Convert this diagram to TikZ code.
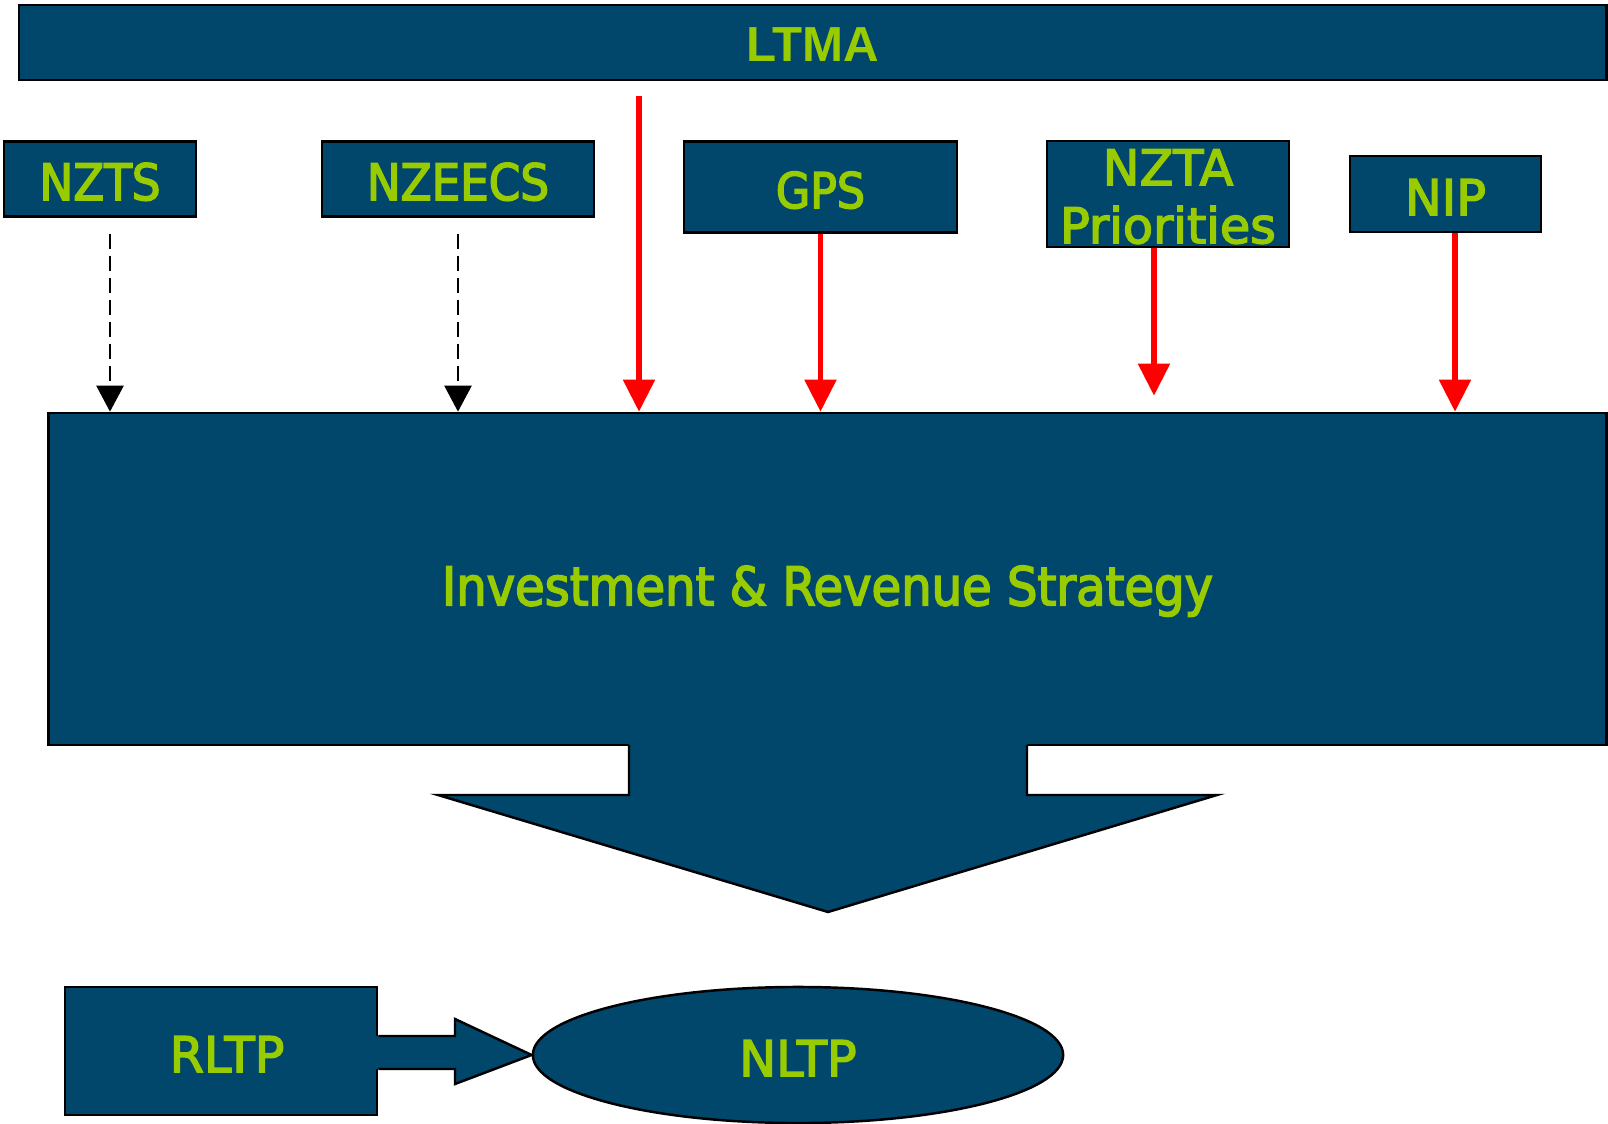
\documentclass[tikz,border=0pt]{standalone}
\usepackage{fontspec}
\setmainfont[FakeBold=3]{DejaVu Sans}
\newfontfamily\narrowfont[FakeBold=3]{DejaVu Sans Condensed}
\newfontfamily\actfont{Liberation Sans}
\usepackage{tikz}
\usetikzlibrary{arrows.meta, positioning, shapes.geometric}
\usepackage{xcolor}
\definecolor{navy}{HTML}{01466B}
\definecolor{lime}{HTML}{99CC00}

\begin{document}
\begin{tikzpicture}[
  x=0.01cm, y=-0.01cm,
  box/.style={draw=black, fill=navy, text=lime, line width=0.7pt, inner sep=0pt,
    align=center, font=\fontsize{14}{16.5}\selectfont},
  oneline/.style={text height=12pt, text depth=0pt},
  redmsg/.style={-{Triangle[length=3.2mm, width=3.1mm]}, draw=red, line width=1.5pt},
  dashmsg/.style={-{Triangle[length=2.6mm, width=2.7mm]}, line width=0.7pt,
    dash pattern=on 1.5mm off 0.7mm}
]
\useasboundingbox (0,0) rectangle (1608,1124);

\node[box, minimum width=15.865cm, minimum height=0.75cm, text height=10.6pt, text depth=0pt,
  font=\actfont\bfseries\fontsize{14}{16}\selectfont] (ltma) at (812.75,42.5) {LTMA};
\node[box, oneline, minimum width=1.92cm, minimum height=0.745cm, font=\narrowfont\fontsize{14.3}{16}\selectfont] (nzts) at (100,179) {NZTS};
\node[box, oneline, minimum width=2.72cm, minimum height=0.745cm, font=\narrowfont\fontsize{14.3}{16}\selectfont] (nzeecs) at (458,179) {NZEECS};
\node[box, oneline, minimum width=2.73cm, minimum height=0.905cm, font=\narrowfont\fontsize{14}{16}\selectfont] (gps) at (820.5,187) {GPS};
\node[box, minimum width=2.42cm, minimum height=1.055cm, text height=29pt, text depth=1pt] (nzta) at (1168,194) {NZTA\\Priorities};
\node[box, oneline, minimum width=1.91cm, minimum height=0.76cm] (nip) at (1445.5,194) {NIP};

\node[box, minimum width=15.57cm, minimum height=3.32cm, text height=15pt, text depth=0pt,
  font=\narrowfont\fontsize{15.2}{18}\selectfont] (irs) at (827.5,579) {Investment \& Revenue Strategy};

\coordinate (ltmaout) at (639,96);
\coordinate (nztsout) at ([xshift=0.1cm, yshift=-0.16cm]nzts.south);
\coordinate (nzeecsout) at ([yshift=-0.16cm]nzeecs.south);
\coordinate (nztaout) at ([xshift=-0.14cm]nzta.south);
\coordinate (nipout) at ([xshift=0.095cm]nip.south);

\draw[dashmsg] (nztsout) -- (nztsout |- irs.north);
\draw[dashmsg] (nzeecsout) -- (nzeecsout |- irs.north);
\draw[redmsg] (ltmaout) -- (ltmaout |- irs.north);
\draw[redmsg] (gps.south) -- (gps.south |- irs.north);
\draw[redmsg, shorten >=1.6mm] (nztaout) -- (nztaout |- irs.north);
\draw[redmsg] (nipout) -- (nipout |- irs.north);

% block arrow out of the strategy box
\fill[navy] (629,742) -- (629,795) -- (438,795) -- (828,912) -- (1217,795) -- (1027,795) -- (1027,742) -- cycle;
\draw[line width=0.7pt, line join=miter] (629,745) -- (629,795) -- (438,795) -- (828,912) -- (1217,795) -- (1027,795) -- (1027,745);

\node[box, oneline, minimum width=3.12cm, minimum height=1.28cm] (rltp) at (221,1051) {\hspace{0.12cm}RLTP};
\node[box, oneline, ellipse, minimum width=5.3cm, minimum height=1.36cm] (nltp) at (798,1055) {NLTP};

\fill[navy] (374,1036) -- (455,1036) -- (455,1019) -- (nltp.west) -- (455,1084) -- (455,1069) -- (374,1069) -- cycle;
\draw[line width=0.7pt] (rltp.east |- 0,1036) -- (455,1036) -- (455,1019) -- (nltp.west) -- (455,1084) -- (455,1069) -- (rltp.east |- 0,1069);
\end{tikzpicture}
\end{document}
